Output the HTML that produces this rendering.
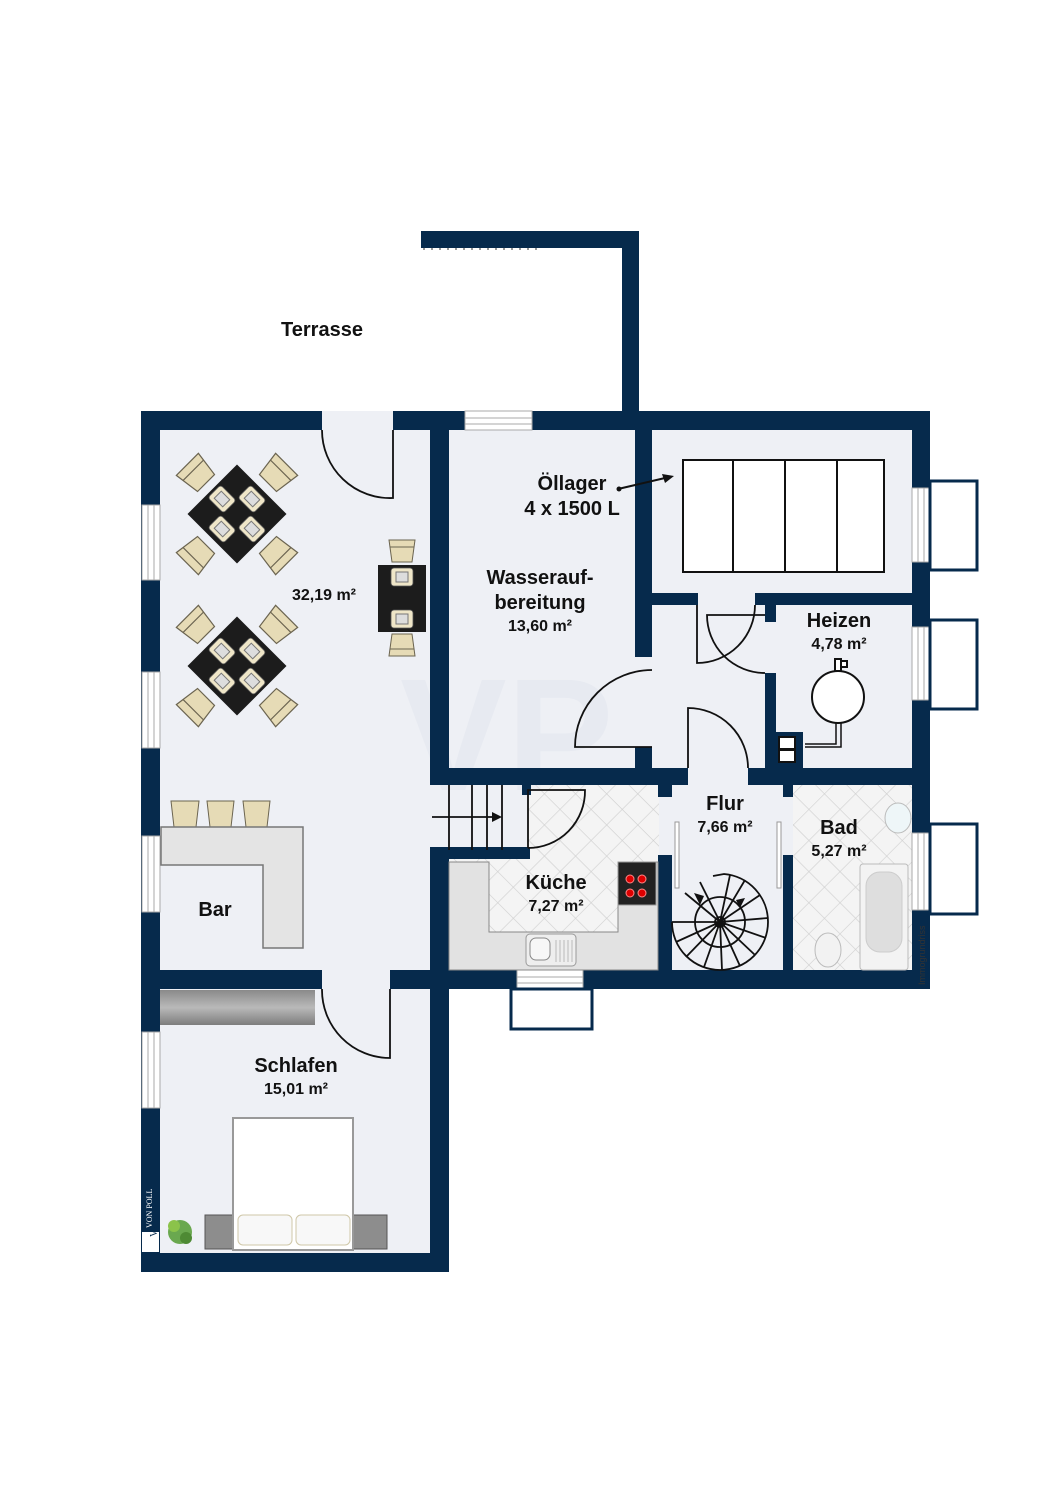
<!DOCTYPE html>
<html><head><meta charset="utf-8"><style>
html,body{margin:0;padding:0;background:#fff;}
svg{display:block}
text{font-family:"Liberation Sans",Arial,sans-serif;fill:#111}
</style></head><body>
<svg width="1060" height="1500" viewBox="0 0 1060 1500" xmlns="http://www.w3.org/2000/svg">
<defs>
<pattern id="tile" width="22" height="22" patternUnits="userSpaceOnUse" patternTransform="rotate(45)">
<rect width="22" height="22" fill="#f4f4f4"/>
<path d="M0 0H22M0 0V22" stroke="#cfcfcf" stroke-width="1.2"/>
</pattern>
<linearGradient id="wd" x1="0" y1="0" x2="0" y2="1"><stop offset="0" stop-color="#8a8a8a"/><stop offset="0.5" stop-color="#b9b9b9"/><stop offset="1" stop-color="#7d7d7d"/></linearGradient>
<g id="chair"><path d="M-13 -11 L13 -11 L10 11 L-10 11 Z" fill="#e6dbb6" stroke="#6b6450" stroke-width="1"/><line x1="-12" y1="-4" x2="12" y2="-4" stroke="#6b6450" stroke-width="1"/></g>
<g id="plate"><rect x="-11" y="-9" width="22" height="18" rx="3" fill="#efe6c8" stroke="#555" stroke-width="0.8"/><rect x="-6" y="-5" width="12" height="10" fill="#ddd" stroke="#777" stroke-width="1"/></g>
<g id="ctab">
 <g transform="rotate(45)">
  <use href="#chair" transform="translate(0,-57) scale(1.2)"/>
  <use href="#chair" transform="translate(0,57) rotate(180) scale(1.2)"/>
  <use href="#chair" transform="translate(-57,0) rotate(-90) scale(1.2)"/>
  <use href="#chair" transform="translate(57,0) rotate(90) scale(1.2)"/>
  <rect x="-35" y="-35" width="70" height="70" fill="#1c1c1c"/>
 </g>
 <use href="#plate" transform="translate(-15,-15) rotate(45)"/>
 <use href="#plate" transform="translate(15,-15) rotate(45)"/>
 <use href="#plate" transform="translate(-15,15) rotate(45)"/>
 <use href="#plate" transform="translate(15,15) rotate(45)"/>
</g>
</defs>

<rect x="141" y="411" width="308" height="860" fill="#eef0f5"/>
<rect x="430" y="411" width="500" height="577" fill="#eef0f5"/>
<rect x="449" y="785" width="210" height="185" fill="url(#tile)"/>
<rect x="793" y="785" width="119" height="185" fill="url(#tile)"/>
<rect x="432" y="785" width="96" height="65" fill="#eef0f5"/>
<rect x="672" y="785" width="111" height="185" fill="#eef0f5"/>

<text x="400" y="790" font-size="160" font-weight="bold" opacity="0.4" style="fill:#dfe3ec">VP</text>

<g fill="#062a4c">
<rect x="421" y="231" width="218" height="17"/>
<rect x="622" y="231" width="17" height="185"/>
</g>
<line x1="423" y1="249" x2="540" y2="249" stroke="#333" stroke-width="1" stroke-dasharray="2 6"/>
<text x="322" y="336" font-size="20" font-weight="bold" text-anchor="middle">Terrasse</text>

<g fill="#062a4c">
<rect x="141" y="411" width="181" height="19"/>
<rect x="393" y="411" width="72" height="19"/>
<rect x="532" y="411" width="398" height="19"/>
<rect x="141" y="411" width="19" height="861"/>
<rect x="141" y="1253" width="308" height="19"/>
<rect x="430" y="411" width="19" height="374"/>
<rect x="430" y="847" width="19" height="425"/>
<rect x="430" y="847" width="100" height="12"/>
<rect x="522" y="785" width="9" height="10"/>
<rect x="141" y="970" width="181" height="19"/>
<rect x="390" y="970" width="127" height="19"/>
<rect x="583" y="970" width="347" height="19"/>
<rect x="912" y="411" width="18" height="577"/>
<rect x="635" y="411" width="17" height="246"/>
<rect x="635" y="747" width="17" height="38"/>
<rect x="430" y="768" width="258" height="17"/>
<rect x="748" y="768" width="182" height="17"/>
<rect x="652" y="593" width="46" height="12"/>
<rect x="755" y="593" width="157" height="12"/>
<rect x="765" y="604" width="11" height="18"/>
<rect x="765" y="673" width="11" height="95"/>
<rect x="765" y="732" width="38" height="36"/>
<rect x="658" y="785" width="14" height="12"/>
<rect x="658" y="855" width="14" height="115"/>
<rect x="783" y="785" width="10" height="12"/>
<rect x="783" y="855" width="10" height="115"/>
</g>

<g fill="#fff" stroke="#aaa" stroke-width="1">
<rect x="465" y="411" width="67" height="19"/><path d="M465 418H532M465 424H532" fill="none"/>
<rect x="517" y="970" width="66" height="19"/><path d="M517 977H583M517 983H583" fill="none"/>
<rect x="142" y="505" width="18" height="75"/><path d="M148 505V580M154 505V580" fill="none"/>
<rect x="142" y="672" width="18" height="76"/><path d="M148 672V748M154 672V748" fill="none"/>
<rect x="142" y="836" width="18" height="76"/><path d="M148 836V912M154 836V912" fill="none"/>
<rect x="142" y="1032" width="18" height="76"/><path d="M148 1032V1108M154 1032V1108" fill="none"/>
<rect x="912" y="488" width="18" height="74"/><path d="M918 488V562M924 488V562" fill="none"/>
<rect x="912" y="627" width="18" height="73"/><path d="M918 627V700M924 627V700" fill="none"/>
<rect x="912" y="833" width="18" height="77"/><path d="M918 833V910M924 833V910" fill="none"/>
</g>
<g fill="none" stroke="#062a4c" stroke-width="3">
<rect x="930" y="481" width="47" height="89"/>
<rect x="930" y="620" width="47" height="89"/>
<rect x="930" y="824" width="47" height="90"/>
<rect x="511" y="989" width="81" height="40"/>
</g>

<g fill="none" stroke="#111" stroke-width="1.8">
<path d="M393 430V498 A68 68 0 0 1 322 430"/>
<path d="M390 989V1058 A68 68 0 0 1 322 989"/>
<path d="M697 605V663 A58 58 0 0 0 755 605"/>
<path d="M765 615H707 A58 58 0 0 0 765 673"/>
<path d="M652 747H575 A77 77 0 0 1 652 670"/>
<path d="M688 768V708 A60 60 0 0 1 748 768"/>
<path d="M528 848V790H585 A57 57 0 0 1 528 848"/>
</g>
<g fill="#fff" stroke="#999" stroke-width="1">
<rect x="675" y="822" width="4" height="66"/>
<rect x="777" y="822" width="4" height="66"/>
</g>

<g fill="none" stroke="#111" stroke-width="1.8">
<path d="M449 785V850M472 785V850M487 785V850M502 785V850"/>
<path d="M432 817H495"/>
</g>
<path d="M502 817L492 812V822Z" fill="#111"/>

<g fill="#fff" stroke="#111" stroke-width="2">
<rect x="683" y="460" width="201" height="112"/>
<path d="M733 460V572M785 460V572M837 460V572" fill="none"/>
</g>
<path d="M618 489L665 478" stroke="#111" stroke-width="2"/>
<path d="M674 476L662 474L665 483Z" fill="#111"/>
<circle cx="619" cy="489" r="2.5" fill="#111"/>

<g fill="#fff" stroke="#111" stroke-width="2">
<circle cx="838" cy="697" r="26"/>
<rect x="835" y="659" width="6" height="12"/><rect x="841" y="661" width="6" height="6"/>
<path d="M836 723V744H805M841 723V747H805" fill="none" stroke-width="1.5"/>
<rect x="779" y="737" width="16" height="12" fill="#fff"/>
<rect x="779" y="750" width="16" height="12" fill="#fff"/>
</g>

<path d="M449 862H489V932H618V862H658V970H449Z" fill="#e2e2e2" stroke="#888" stroke-width="1"/>
<rect x="618" y="862" width="38" height="43" fill="#222" stroke="#999"/>
<g fill="#d00" stroke="#f88" stroke-width="1"><circle cx="630" cy="879" r="4"/><circle cx="642" cy="879" r="4"/><circle cx="630" cy="893" r="4"/><circle cx="642" cy="893" r="4"/></g>
<rect x="526" y="934" width="50" height="32" rx="4" fill="#eee" stroke="#999"/>
<rect x="530" y="938" width="20" height="22" rx="6" fill="#f7f7f7" stroke="#888"/>
<path d="M556 940V962M560 940V962M564 940V962M568 940V962M572 940V962" stroke="#bbb"/>

<g fill="none" stroke="#111" stroke-width="1.8">
<path d="M720 922 m-48 0 a48 48 0 1 0 96 0 a48 48 0 0 0 -44 -48 L713 876"/>
<circle cx="720" cy="922" r="25"/>
<circle cx="720" cy="922" r="5" fill="#fff"/>
<path d="M720 922L672 922M720 922L676 942M720 922L686 957M720 922L704 967M720 922L722 970M720 922L740 966M720 922L755 955M720 922L766 938M720 922L768 918M720 922L760 895M720 922L745 880M720 922L730 875M720 922L685 893M720 922L700 882"/>
</g>
<path d="M700 905L694 893L704 896Z" fill="#111"/>
<path d="M745 898L740 908L736 900Z" fill="#111"/>

<rect x="860" y="864" width="48" height="106" rx="3" fill="#f3f3f3" stroke="#bbb"/>
<rect x="866" y="872" width="36" height="80" rx="14" fill="#dedede" stroke="#ccc"/>
<ellipse cx="828" cy="950" rx="13" ry="17" fill="#f2f2f2" stroke="#bbb"/>
<ellipse cx="898" cy="818" rx="13" ry="15" fill="#eef6f8" stroke="#bbb"/>
<text x="925" y="985" font-size="9" transform="rotate(-90 925 985)" style="fill:#333">Immogrundriss</text>

<use href="#ctab" transform="translate(237,514)"/>
<use href="#ctab" transform="translate(237,666)"/>
<use href="#chair" transform="translate(402,551)"/>
<use href="#chair" transform="translate(402,645) rotate(180)"/>
<rect x="378" y="565" width="48" height="67" fill="#1c1c1c"/>
<use href="#plate" transform="translate(402,577)"/>
<use href="#plate" transform="translate(402,619)"/>

<g fill="#e6dbb6" stroke="#6b6450" stroke-width="1">
<path d="M171 801H199L196 827H174Z"/><path d="M207 801H234L231 827H210Z"/><path d="M243 801H270L267 827H246Z"/>
</g>
<path d="M161 827H303V948H263V865H161Z" fill="#e4e4e4" stroke="#777" stroke-width="1.5"/>

<rect x="160" y="990" width="155" height="35" fill="url(#wd)"/>
<rect x="205" y="1215" width="35" height="34" fill="#8d8d8d" stroke="#555"/>
<rect x="352" y="1215" width="35" height="34" fill="#8d8d8d" stroke="#555"/>
<rect x="233" y="1118" width="120" height="132" fill="#fff" stroke="#999" stroke-width="2"/>
<rect x="238" y="1215" width="54" height="30" rx="5" fill="#f8f8f8" stroke="#cfc7a8"/>
<rect x="296" y="1215" width="54" height="30" rx="5" fill="#f8f8f8" stroke="#cfc7a8"/>
<circle cx="180" cy="1232" r="12" fill="#6aa84f"/><circle cx="174" cy="1226" r="6" fill="#8bc34a"/><circle cx="186" cy="1238" r="6" fill="#4e8a34"/>

<rect x="142" y="1232" width="17" height="20" fill="#fff"/>
<text x="156" y="1248" font-size="10" transform="rotate(-90 151 1242)" style="fill:#062a4c;font-family:'Liberation Serif',serif">VP</text>
<text x="152" y="1228" font-size="8" transform="rotate(-90 152 1228)" style="fill:#fff;font-family:'Liberation Serif',serif">VON POLL</text>

<g font-weight="bold" text-anchor="middle">
<text x="572" y="490" font-size="20">Öllager</text>
<text x="572" y="515" font-size="20">4 x 1500 L</text>
<text x="540" y="584" font-size="20">Wasserauf-</text>
<text x="540" y="609" font-size="20">bereitung</text>
<text x="540" y="631" font-size="16">13,60 m²</text>
<text x="324" y="600" font-size="16">32,19 m²</text>
<text x="839" y="627" font-size="20">Heizen</text>
<text x="839" y="649" font-size="16">4,78 m²</text>
<text x="725" y="810" font-size="20">Flur</text>
<text x="725" y="832" font-size="16">7,66 m²</text>
<text x="839" y="834" font-size="20">Bad</text>
<text x="839" y="856" font-size="16">5,27 m²</text>
<text x="556" y="889" font-size="20">Küche</text>
<text x="556" y="911" font-size="16">7,27 m²</text>
<text x="215" y="916" font-size="20">Bar</text>
<text x="296" y="1072" font-size="20">Schlafen</text>
<text x="296" y="1094" font-size="16">15,01 m²</text>
</g>
</svg>
</body></html>
